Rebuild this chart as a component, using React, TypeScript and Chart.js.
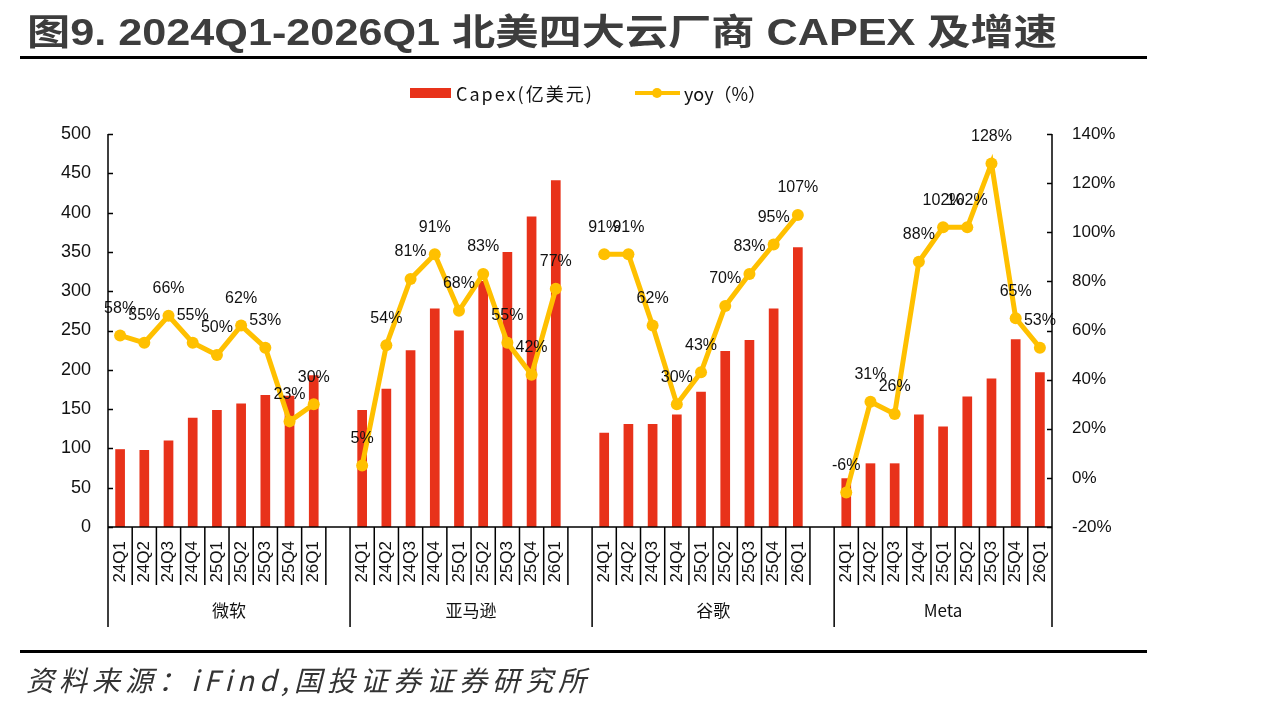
import React, { useEffect, useRef } from 'react';
import { Chart, registerables } from 'chart.js';

Chart.register(...registerables);

const companies = ['微软', '亚马逊', '谷歌', 'Meta'];
const quarters = ['24Q1', '24Q2', '24Q3', '24Q4', '25Q1', '25Q2', '25Q3', '25Q4', '26Q1'];
const msftCapex = [99, 98, 110, 139, 149, 157, 168, 167, 193];
const amznCapex = [149, 176, 225, 278, 250, 313, 350, 395, 441];
const googCapex = [120, 131, 131, 143, 172, 224, 238, 278, 356];
const metaCapex = [62, 81, 81, 143, 128, 166, 189, 239, 197];
const msftYoy = [58, 55, 66, 55, 50, 62, 53, 23, 30];
const amznYoy = [5, 54, 81, 91, 68, 83, 55, 42, 77];
const googYoy = [91, 91, 62, 30, 43, 70, 83, 95, 107];
const metaYoy = [-6, 31, 26, 88, 102, 102, 128, 65, 53];
const leftAxis = { min: 0, max: 500, step: 50 };
const rightAxis = { min: -20, max: 140, step: 20 };

const capexGroups = [msftCapex, amznCapex, googCapex, metaCapex];
const yoyGroups = [msftYoy, amznYoy, googYoy, metaYoy];

const labels: string[] = [];
const capexData: (number | null)[] = [];
const yoyData: (number | null)[] = [];
const groupStarts: number[] = [];
companies.forEach((_, gi) => {
  groupStarts.push(labels.length);
  quarters.forEach((q, qi) => {
    labels.push(q);
    capexData.push(capexGroups[gi][qi]);
    yoyData.push(yoyGroups[gi][qi]);
  });
  if (gi < companies.length - 1) {
    labels.push('');
    capexData.push(null);
    yoyData.push(null);
  }
});
groupStarts.push(labels.length);

const RED = '#E8321A';
const YELLOW = '#FFC000';
const TEXT = '#111111';
const FONT = "'Liberation Sans', Arial, 'Noto Sans CJK SC', sans-serif";
const CJK = "'Noto Sans CJK SC', 'Liberation Sans', sans-serif";

const decorPlugin = {
  id: 'decor',
  afterDatasetsDraw(chart: any) {
    const ctx = chart.ctx;
    ctx.save();
    const meta = chart.getDatasetMeta(1);
    ctx.font = `16px ${FONT}`;
    ctx.fillStyle = TEXT;
    ctx.textAlign = 'center';
    ctx.textBaseline = 'middle';
    meta.data.forEach((pt: any, i: number) => {
      const v = yoyData[i];
      if (v === null || v === undefined) return;
      ctx.fillText(`${v}%`, pt.x, pt.y - 27);
    });
    ctx.restore();
  },
  afterDraw(chart: any) {
    const ctx = chart.ctx;
    const area = chart.chartArea;
    const xs = chart.scales.x;
    const yl = chart.scales.y;
    const yr = chart.scales.y1;
    ctx.save();
    ctx.strokeStyle = '#000';
    ctx.lineWidth = 1.5;
    ctx.beginPath();
    ctx.moveTo(area.left, area.top);
    ctx.lineTo(area.left, area.bottom);
    ctx.moveTo(area.right, area.top);
    ctx.lineTo(area.right, area.bottom);
    ctx.moveTo(area.left, area.bottom);
    ctx.lineTo(area.right, area.bottom);
    ctx.stroke();
    ctx.beginPath();
    for (let v = leftAxis.min; v <= leftAxis.max; v += leftAxis.step) {
      const y = Math.round(yl.getPixelForValue(v)) + 0.5;
      ctx.moveTo(area.left, y);
      ctx.lineTo(area.left + 5, y);
    }
    for (let v = rightAxis.min; v <= rightAxis.max; v += rightAxis.step) {
      const y = Math.round(yr.getPixelForValue(v)) + 0.5;
      ctx.moveTo(area.right - 5, y);
      ctx.lineTo(area.right, y);
    }
    ctx.stroke();
    const slot = xs.getPixelForValue(1) - xs.getPixelForValue(0);
    ctx.beginPath();
    for (let i = 0; i <= labels.length; i++) {
      const x = xs.getPixelForValue(i) - slot / 2;
      const isGroup = groupStarts.includes(i);
      ctx.moveTo(x, area.bottom);
      ctx.lineTo(x, area.bottom + (isGroup ? 100 : 58));
    }
    ctx.stroke();
    ctx.fillStyle = TEXT;
    ctx.font = `17px ${CJK}`;
    ctx.textAlign = 'center';
    ctx.textBaseline = 'middle';
    companies.forEach((c, gi) => {
      const x0 = xs.getPixelForValue(groupStarts[gi]) - slot / 2;
      const x1 = xs.getPixelForValue(groupStarts[gi + 1]) - slot / 2;
      ctx.fillText(c, (x0 + x1) / 2, area.bottom + 84);
    });
    ctx.restore();
  },
};

export default function App() {
  const ref = useRef<HTMLCanvasElement | null>(null);
  useEffect(() => {
    if (!ref.current) return;
    const chart = new Chart(ref.current, {
      type: 'bar',
      data: {
        labels,
        datasets: [
          {
            type: 'bar',
            label: 'Capex(亿美元)',
            data: capexData,
            backgroundColor: RED,
            yAxisID: 'y',
            barPercentage: 0.4,
            categoryPercentage: 1,
            order: 2,
          },
          {
            type: 'line',
            label: 'yoy（%）',
            data: yoyData,
            borderColor: YELLOW,
            backgroundColor: YELLOW,
            borderWidth: 5,
            pointRadius: 6,
            pointHoverRadius: 6,
            pointBorderWidth: 0,
            pointBackgroundColor: YELLOW,
            yAxisID: 'y1',
            spanGaps: false,
            tension: 0,
            order: 1,
          } as any,
        ],
      },
      options: {
        responsive: true,
        maintainAspectRatio: false,
        animation: false,
        layout: { padding: { left: 48, right: 137, top: 134, bottom: 0 } },
        plugins: {
          legend: { display: false },
          tooltip: { enabled: false },
          title: { display: false },
        },
        scales: {
          x: {
            type: 'category',
            offset: true,
            grid: { display: false, drawTicks: false },
            border: { display: false },
            ticks: {
              autoSkip: false,
              minRotation: 90,
              maxRotation: 90,
              padding: 14,
              color: TEXT,
              font: { size: 17, family: FONT },
            },
            afterFit: (s: any) => {
              s.height = 181;
            },
          },
          y: {
            position: 'left',
            min: leftAxis.min,
            max: leftAxis.max,
            grid: { display: false, drawTicks: false },
            border: { display: false },
            ticks: {
              stepSize: leftAxis.step,
              padding: 17,
              color: TEXT,
              font: { size: 18, family: FONT },
            },
            afterFit: (s: any) => {
              s.width = 60;
            },
          },
          y1: {
            position: 'right',
            min: rightAxis.min,
            max: rightAxis.max,
            grid: { display: false, drawTicks: false },
            border: { display: false },
            ticks: {
              stepSize: rightAxis.step,
              padding: 20,
              color: TEXT,
              font: { size: 17, family: FONT },
              callback: (v: any) => `${v}%`,
            },
            afterFit: (s: any) => {
              s.width = 80;
            },
          },
        },
      },
      plugins: [decorPlugin],
    });
    return () => chart.destroy();
  }, []);

  return (
    <div style={{ position: 'absolute', left: 0, top: 0, width: 1269, height: 708, background: '#fff', overflow: 'hidden' }}>
      <div style={{ position: 'absolute', left: 0, top: 0, width: 1269, height: 708 }}>
        <canvas ref={ref} />
      </div>
      <div
        style={{
          position: 'absolute',
          left: 27,
          top: 9,
          whiteSpace: 'nowrap',
          fontFamily: FONT,
          fontWeight: 'bold',
          fontSize: 36,
          lineHeight: '48px',
          color: '#3d3d3d',
          transformOrigin: 'left top',
          transform: 'scaleX(1.2)',
        }}
      >
        图9. 2024Q1-2026Q1 北美四大云厂商 CAPEX 及增速
      </div>
      <div style={{ position: 'absolute', left: 20, top: 56, width: 1127, height: 3, background: '#000' }} />
      <div style={{ position: 'absolute', left: 410, top: 88, width: 41, height: 10, background: RED }} />
      <div style={{ position: 'absolute', left: 456, top: 81, fontFamily: CJK, fontSize: 18, letterSpacing: 2, lineHeight: '24px', color: TEXT, whiteSpace: 'nowrap' }}>
        Capex(亿美元)
      </div>
      <div style={{ position: 'absolute', left: 635, top: 91, width: 45, height: 4, background: YELLOW }} />
      <div style={{ position: 'absolute', left: 652, top: 88, width: 10, height: 10, borderRadius: 5, background: YELLOW }} />
      <div style={{ position: 'absolute', left: 684, top: 81, fontFamily: CJK, fontSize: 18, lineHeight: '24px', color: TEXT, whiteSpace: 'nowrap' }}>
        yoy（%）
      </div>
      <div style={{ position: 'absolute', left: 20, top: 650, width: 1127, height: 3, background: '#000' }} />
      <div
        style={{
          position: 'absolute',
          left: 26,
          top: 660,
          whiteSpace: 'nowrap',
          fontFamily: CJK,
          fontStyle: 'italic',
          fontSize: 28,
          lineHeight: '38px',
          letterSpacing: 5,
          color: '#333',
        }}
      >
        资料来源：iFind,国投证券证券研究所
      </div>
    </div>
  );
}
